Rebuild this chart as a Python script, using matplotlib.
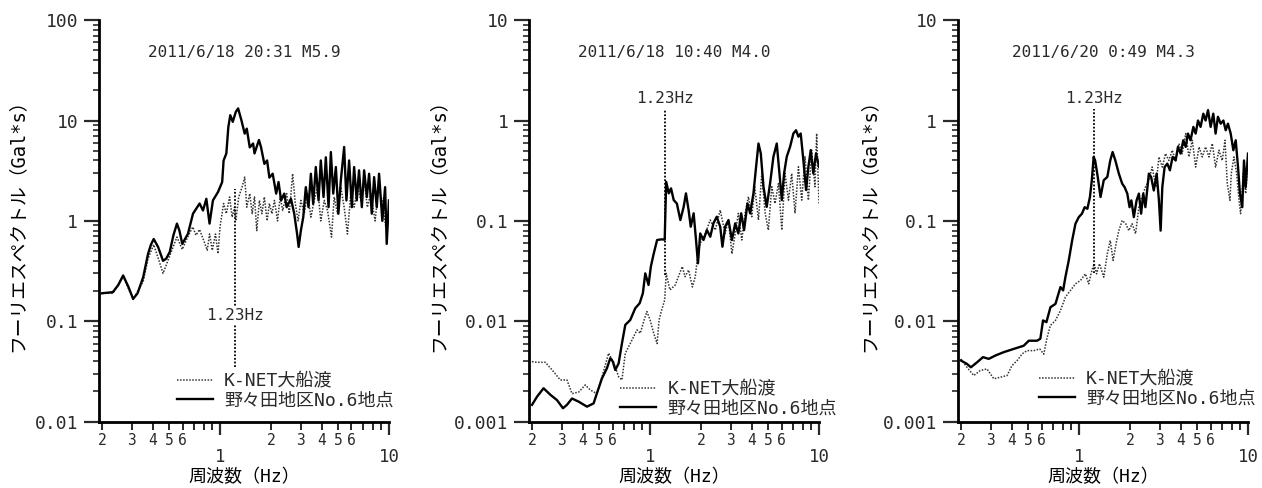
import matplotlib
matplotlib.use("Agg")
import matplotlib.pyplot as plt
from matplotlib.ticker import FixedLocator, FixedFormatter, NullFormatter

plt.rcParams['font.family'] = ['DejaVu Sans Mono', 'Noto Sans CJK JP']
plt.rcParams['text.color'] = '#2a2a2a'
plt.rcParams['xtick.color'] = '#2a2a2a'
plt.rcParams['ytick.color'] = '#2a2a2a'

# --- event titles / legend labels ---
titles = ["2011/6/18 20:31 M5.9", "2011/6/18 10:40 M4.0", "2011/6/20 0:49 M4.3"]
label_knet = "K-NET大船渡"
label_site = "野々田地区No.6地点"
peak_freq = 1.23
peak_text = "1.23Hz"

# --- 2011/6/18 20:31 M5.9 ---
p1_site_f = [0.20, 0.232, 0.25, 0.267, 0.287, 0.306, 0.325, 0.351, 0.375, 0.39, 0.405, 0.43,
             0.46, 0.48, 0.504, 0.53, 0.556, 0.575, 0.598, 0.646, 0.692, 0.757, 0.793, 0.83,
             0.867, 0.908, 0.973, 1.03, 1.05, 1.09, 1.12, 1.15, 1.19, 1.24, 1.28, 1.34, 1.40,
             1.44, 1.50, 1.57, 1.60, 1.70, 1.75, 1.83, 1.90, 1.96, 2.05, 2.15, 2.22, 2.30, 2.40,
             2.48, 2.63, 2.75, 2.86, 2.92, 3.01, 3.11, 3.22, 3.34, 3.45, 3.56, 3.69, 3.83, 3.95,
             4.10, 4.23, 4.39, 4.53, 4.68, 4.85, 5.02, 5.19, 5.43, 5.60, 5.81, 6.03, 6.22, 6.45,
             6.65, 6.91, 7.13, 7.40, 7.63, 7.91, 8.17, 8.47, 8.74, 9.14, 9.49, 9.70, 10.0]
p1_site_a = [0.19, 0.195, 0.23, 0.286, 0.22, 0.167, 0.19, 0.275, 0.47, 0.58, 0.66, 0.55,
             0.40, 0.42, 0.49, 0.72, 0.94, 0.80, 0.59, 0.745, 1.18, 1.49, 1.27, 1.66,
             0.94, 1.6, 1.94, 2.44, 4.0, 4.7, 8.6, 11.3, 9.7, 12.2, 13.2, 10.0, 7.4,
             8.3, 5.4, 5.9, 4.7, 6.4, 5.4, 3.7, 4.0, 2.7, 2.95, 1.87, 2.44, 1.6, 1.87,
             1.37, 1.66, 1.18, 0.74, 0.55, 0.80, 1.09, 2.17, 1.37, 2.95, 1.48, 3.44, 1.6, 4.0,
             1.73, 4.3, 1.37, 4.85, 1.87, 3.44, 1.18, 2.53, 5.45, 1.6, 4.0, 1.37, 3.44, 1.6,
             3.19, 1.37, 3.19, 1.73, 2.95, 1.18, 2.73, 1.37, 2.95, 1.0, 2.17, 0.59, 1.6]
p1_knet_f = [0.20, 0.232, 0.267, 0.306, 0.351, 0.375, 0.405, 0.44, 0.46, 0.504, 0.556, 0.598,
             0.646, 0.69, 0.72, 0.757, 0.80, 0.84, 0.867, 0.90, 0.94, 0.973, 1.0, 1.05, 1.09,
             1.14, 1.18, 1.22, 1.24, 1.29, 1.35, 1.40, 1.44, 1.50, 1.55, 1.60, 1.65, 1.71, 1.77,
             1.83, 1.90, 1.96, 2.03, 2.10, 2.19, 2.27, 2.35, 2.48, 2.57, 2.69, 2.79, 2.90, 3.01,
             3.15, 3.30, 3.45, 3.61, 3.78, 3.95, 4.14, 4.33, 4.57, 4.74, 4.96, 5.19, 5.43, 5.68,
             5.94, 6.22, 6.52, 6.82, 7.13, 7.45, 7.80, 8.28, 8.65, 9.14, 9.57, 10.0]
p1_knet_a = [0.19, 0.19, 0.28, 0.165, 0.25, 0.42, 0.58, 0.38, 0.30, 0.45, 0.69, 0.52,
             0.70, 0.87, 0.72, 0.82, 0.64, 0.51, 0.74, 0.51, 0.74, 0.47, 0.87, 1.49, 1.18,
             1.73, 1.09, 1.37, 1.0, 1.73, 2.17, 2.73, 1.37, 1.87, 1.18, 1.73, 0.80, 1.6, 1.18,
             1.73, 1.0, 1.49, 1.18, 1.6, 1.0, 1.73, 1.27, 1.87, 1.18, 2.95, 1.49, 1.0, 1.6,
             1.18, 1.87, 1.09, 1.6, 2.17, 1.0, 1.6, 1.27, 0.69, 1.73, 1.18, 2.17, 1.37, 0.74,
             1.87, 1.37, 2.17, 1.6, 2.53, 1.37, 1.87, 1.0, 2.02, 1.6, 0.87, 1.18]

# --- 2011/6/18 10:40 M4.0 ---
p2_site_f = [0.20, 0.214, 0.234, 0.257, 0.281, 0.305, 0.322, 0.345, 0.378, 0.423, 0.463, 0.484,
             0.519, 0.555, 0.581, 0.602, 0.622, 0.651, 0.681, 0.713, 0.763, 0.817, 0.867, 0.906,
             0.936, 0.979, 1.01, 1.05, 1.10, 1.17, 1.22, 1.245, 1.29, 1.33, 1.38, 1.44, 1.51,
             1.58, 1.63, 1.69, 1.74, 1.81, 1.87, 1.92, 1.98, 2.07, 2.17, 2.27, 2.37, 2.48, 2.60,
             2.68, 2.78, 2.91, 3.05, 3.19, 3.33, 3.46, 3.60, 3.77, 3.91, 4.09, 4.24, 4.38, 4.52,
             4.69, 4.90, 5.13, 5.37, 5.62, 5.83, 6.02, 6.21, 6.44, 6.74, 7.05, 7.31, 7.55, 7.79,
             8.08, 8.38, 8.65, 8.93, 9.25, 9.60, 10.0]
p2_site_a = [0.00147, 0.00177, 0.00215, 0.00185, 0.00164, 0.00136, 0.00147, 0.0017, 0.00158,
             0.00141, 0.00152, 0.00191, 0.0027, 0.0034, 0.00428, 0.00396, 0.00327, 0.0038, 0.006,
             0.0092, 0.0103, 0.0135, 0.0151, 0.019, 0.030, 0.023, 0.035, 0.047, 0.0645, 0.0655,
             0.065, 0.245, 0.188, 0.211, 0.161, 0.149, 0.102, 0.138, 0.188, 0.128, 0.0875, 0.119,
             0.0645, 0.0378, 0.075, 0.0645, 0.081, 0.0695, 0.0945, 0.11, 0.0875, 0.0553, 0.0875,
             0.102, 0.0645, 0.0945, 0.075, 0.119, 0.081, 0.149, 0.119, 0.188, 0.346, 0.59, 0.47,
             0.219, 0.138, 0.236, 0.436, 0.59, 0.297, 0.161, 0.297, 0.436, 0.548, 0.743, 0.80,
             0.69, 0.743, 0.40, 0.203, 0.346, 0.507, 0.297, 0.47, 0.346]
p2_knet_f = [0.20, 0.214, 0.24, 0.263, 0.294, 0.322, 0.345, 0.378, 0.413, 0.442, 0.484, 0.519,
             0.568, 0.608, 0.651, 0.681, 0.713, 0.763, 0.798, 0.836, 0.875, 0.915, 0.957, 1.0,
             1.05, 1.10, 1.13, 1.17, 1.22, 1.245, 1.31, 1.41, 1.47, 1.55, 1.61, 1.69, 1.78, 1.85,
             1.92, 1.98, 2.12, 2.27, 2.43, 2.60, 2.78, 2.91, 3.05, 3.19, 3.33, 3.49, 3.65, 3.82,
             4.0, 4.16, 4.38, 4.58, 4.80, 5.01, 5.25, 5.49, 5.75, 6.02, 6.29, 6.59, 6.89, 7.21,
             7.55, 7.90, 8.26, 8.65, 9.04, 9.46, 9.68, 10.0]
p2_knet_a = [0.00396, 0.0039, 0.0039, 0.00327, 0.0026, 0.0026, 0.0019, 0.00197, 0.00232, 0.00207,
             0.0019, 0.0028, 0.0048, 0.0039, 0.0028, 0.0026, 0.0048, 0.006, 0.007, 0.0082, 0.0076,
             0.0099, 0.0125, 0.0103, 0.0076, 0.006, 0.0103, 0.0129, 0.0163, 0.030, 0.0205, 0.023,
             0.0278, 0.035, 0.0278, 0.0324, 0.022, 0.0278, 0.047, 0.0597, 0.075, 0.102, 0.081,
             0.128, 0.075, 0.102, 0.047, 0.075, 0.119, 0.0645, 0.119, 0.174, 0.11, 0.219, 0.102,
             0.297, 0.119, 0.081, 0.219, 0.149, 0.236, 0.081, 0.297, 0.161, 0.297, 0.119, 0.346,
             0.161, 0.436, 0.161, 0.507, 0.219, 0.743, 0.149]

# --- 2011/6/20 0:49 M4.3 ---
p3_site_f = [0.20, 0.217, 0.229, 0.249, 0.27, 0.292, 0.32, 0.358, 0.41, 0.47, 0.504, 0.564,
             0.59, 0.612, 0.641, 0.677, 0.725, 0.776, 0.805, 0.83, 0.869, 0.91, 0.952, 0.996,
             1.04, 1.08, 1.12, 1.16, 1.19, 1.22, 1.245, 1.29, 1.34, 1.40, 1.47, 1.53, 1.58, 1.64,
             1.72, 1.80, 1.86, 1.93, 1.99, 2.04, 2.11, 2.19, 2.26, 2.33, 2.40, 2.47, 2.59, 2.67,
             2.77, 2.88, 2.97, 3.04, 3.11, 3.21, 3.33, 3.45, 3.58, 3.73, 3.85, 3.99, 4.14, 4.28,
             4.41, 4.57, 4.75, 4.90, 5.06, 5.24, 5.44, 5.61, 5.80, 6.01, 6.23, 6.43, 6.64, 6.89,
             7.15, 7.38, 7.61, 7.90, 8.19, 8.46, 8.73, 8.96, 9.25, 9.47, 9.69, 10.0]
p3_site_a = [0.00406, 0.00376, 0.00348, 0.0039, 0.00439, 0.00422, 0.00456, 0.00492, 0.0053,
             0.0057, 0.0064, 0.0064, 0.0067, 0.0102, 0.0098, 0.0138, 0.0149, 0.0219, 0.0203,
             0.0275, 0.0404, 0.0638, 0.0937, 0.109, 0.118, 0.137, 0.132, 0.173, 0.254, 0.434,
             0.40, 0.274, 0.173, 0.254, 0.274, 0.40, 0.486, 0.40, 0.296, 0.235, 0.217, 0.187,
             0.137, 0.16, 0.109, 0.16, 0.187, 0.118, 0.187, 0.137, 0.296, 0.274, 0.201, 0.296,
             0.16, 0.080, 0.217, 0.344, 0.372, 0.319, 0.434, 0.40, 0.546, 0.468, 0.636, 0.546,
             0.741, 0.636, 0.864, 0.741, 1.0, 0.864, 1.17, 1.0, 1.27, 0.864, 1.17, 0.741, 1.09,
             0.93, 1.0, 0.80, 0.93, 0.741, 0.506, 0.636, 0.344, 0.187, 0.137, 0.40, 0.217, 0.468]
p3_knet_f = [0.20, 0.217, 0.238, 0.26, 0.285, 0.313, 0.342, 0.375, 0.401, 0.43, 0.46, 0.492,
             0.54, 0.585, 0.618, 0.647, 0.677, 0.725, 0.776, 0.83, 0.89, 0.952, 1.02, 1.09, 1.14,
             1.19, 1.23, 1.27, 1.32, 1.40, 1.47, 1.53, 1.59, 1.67, 1.72, 1.80, 1.89, 1.97, 2.06,
             2.16, 2.26, 2.36, 2.47, 2.59, 2.71, 2.85, 2.97, 3.11, 3.25, 3.40, 3.56, 3.73, 3.90,
             4.08, 4.28, 4.47, 4.68, 4.90, 5.13, 5.36, 5.61, 5.87, 6.15, 6.43, 6.73, 7.04, 7.31,
             7.54, 7.82, 7.96, 8.26, 8.57, 8.85, 9.04, 9.38, 9.69, 10.0]
p3_knet_a = [0.0042, 0.00348, 0.00288, 0.00323, 0.00335, 0.00267, 0.00277, 0.00288, 0.00362,
             0.00406, 0.00473, 0.0051, 0.0051, 0.0053, 0.0047, 0.0069, 0.0091, 0.0102, 0.0128,
             0.0174, 0.0203, 0.0236, 0.0255, 0.0297, 0.0236, 0.032, 0.0374, 0.0297, 0.0374,
             0.0275, 0.047, 0.0638, 0.0404, 0.0638, 0.080, 0.101, 0.0937, 0.080, 0.0937, 0.0745,
             0.137, 0.173, 0.217, 0.254, 0.344, 0.217, 0.434, 0.344, 0.468, 0.40, 0.506, 0.40,
             0.589, 0.468, 0.741, 0.434, 0.636, 0.344, 0.546, 0.434, 0.546, 0.434, 0.589, 0.344,
             0.506, 0.40, 0.636, 0.235, 0.16, 0.296, 0.434, 0.296, 0.16, 0.118, 0.296, 0.187, 0.40]

# y ranges and the 1.23Hz marker (line top, line bottom, label height)
ylims = [(0.01, 100), (0.001, 10), (0.001, 10)]
marker_top = [2.1, 1.3, 1.3]
marker_bottom = [0.035, 0.029, 0.03]
marker_label_y = [0.115, 1.64, 1.67]

# axes placement (figure fractions) and legend anchors (axes fractions)
lefts = [0.0784, 0.4192, 0.7591]
legend_anchor = [(0.27, 0.03), (0.315, 0.01), (0.28, 0.035)]
ylabel_x = [-0.25, -0.28, -0.275]

DOTTED = (0, (1, 1))


def plot_panel(ax, site_f, site_a, knet_f, knet_a, title_, ylim, mtop, mbot, mlab, anchor, ylx):
    knet_line, = ax.plot(knet_f, knet_a, color='#333333', lw=1.1, linestyle=DOTTED)
    site_line, = ax.plot(site_f, site_a, color='black', lw=1.7)
    ax.plot([peak_freq, peak_freq], [mbot, mtop], color='black', lw=1.3, linestyle=DOTTED)
    ax.text(peak_freq, mlab, peak_text, ha='center', va='center', fontsize=11.5,
            bbox=dict(facecolor='white', edgecolor='none', pad=1.0))

    ax.set_xscale('log')
    ax.set_yscale('log')
    ax.set_xlim(0.192, 10)
    ax.set_ylim(*ylim)

    ax.spines['top'].set_visible(False)
    ax.spines['right'].set_visible(False)
    ax.spines['left'].set_linewidth(2)
    ax.spines['bottom'].set_linewidth(2)

    # x axis: decades labelled low, 2..6 labelled just under the axis
    ax.xaxis.set_major_locator(FixedLocator([1, 10]))
    ax.xaxis.set_major_formatter(FixedFormatter(['1', '10']))
    minor_x = [0.2, 0.3, 0.4, 0.5, 0.6, 0.7, 0.8, 0.9, 2, 3, 4, 5, 6, 7, 8, 9]
    minor_lab = ['2', '3', '4', '5', '6', '', '', '', '2', '3', '4', '5', '6', '', '', '']
    ax.xaxis.set_minor_locator(FixedLocator(minor_x))
    ax.xaxis.set_minor_formatter(FixedFormatter(minor_lab))
    ax.tick_params(axis='x', which='major', length=9, width=1.6, pad=10, labelsize=12.5)
    ax.tick_params(axis='x', which='minor', length=5.5, width=1.4, pad=3, labelsize=10.5)

    lo, hi = ylim
    decades = []
    v = lo
    while v <= hi * 1.0001:
        decades.append(v)
        v *= 10
    ax.yaxis.set_major_locator(FixedLocator(decades))
    ax.yaxis.set_major_formatter(FixedFormatter(['%g' % d for d in decades]))
    ax.yaxis.set_minor_formatter(NullFormatter())
    ax.tick_params(axis='y', which='major', length=11, width=1.6, pad=4, labelsize=13)
    ax.tick_params(axis='y', which='minor', length=4, width=1.2)

    ax.text(0.5, 0.92, title_, transform=ax.transAxes, ha='center', va='center', fontsize=11.5)
    ax.set_xlabel('周波数（Hz）', fontsize=13, labelpad=0)
    ax.xaxis.set_label_coords(0.5, -0.115)
    ax.set_ylabel('フーリエスペクトル（Gal*s）', fontsize=13.5)
    ax.yaxis.set_label_coords(ylx, 0.5)

    ax.legend([knet_line, site_line], [label_knet, label_site], loc='lower left',
              bbox_to_anchor=anchor, frameon=False, fontsize=13, handlelength=2.0,
              handletextpad=0.6, labelspacing=0.08, borderpad=0, borderaxespad=0)


fig = plt.figure(figsize=(12.62, 4.88), dpi=100)
data = [(p1_site_f, p1_site_a, p1_knet_f, p1_knet_a),
        (p2_site_f, p2_site_a, p2_knet_f, p2_knet_a),
        (p3_site_f, p3_site_a, p3_knet_f, p3_knet_a)]
for i in range(3):
    ax = fig.add_axes([lefts[i], 0.136, 0.2298, 0.8227])
    plot_panel(ax, *data[i], titles[i], ylims[i], marker_top[i], marker_bottom[i],
               marker_label_y[i], legend_anchor[i], ylabel_x[i])

fig.savefig('out.png', dpi=100, facecolor='white')
